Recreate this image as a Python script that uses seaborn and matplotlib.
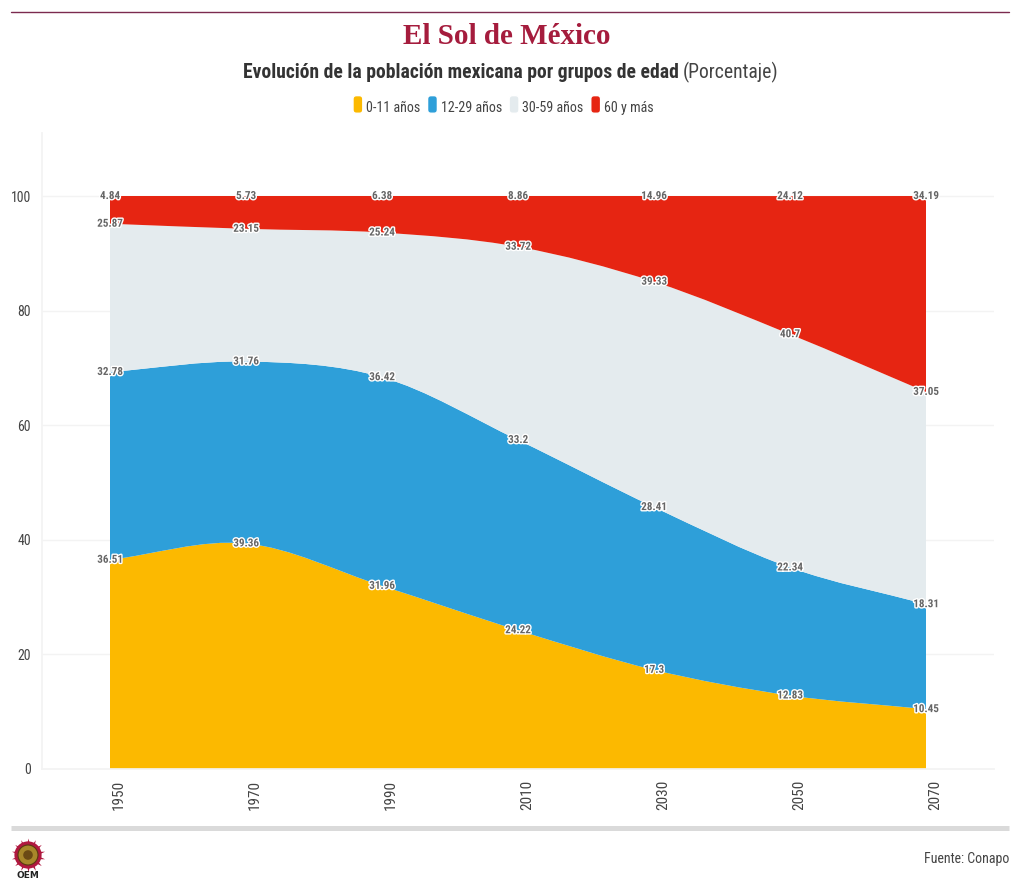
import numpy as np
import pandas as pd
import seaborn as sns
import matplotlib.pyplot as plt
from matplotlib import font_manager
from matplotlib.path import Path
from matplotlib.patches import PathPatch, FancyBboxPatch, Circle
from matplotlib.legend_handler import HandlerPatch
from matplotlib.patches import Patch
import matplotlib.patheffects as pe

years = [1950, 1970, 1990, 2010, 2030, 2050, 2070]
age_0_11 = [36.51, 39.36, 31.96, 24.22, 17.3, 12.83, 10.45]
age_12_29 = [32.78, 31.76, 36.42, 33.2, 28.41, 22.34, 18.31]
age_30_59 = [25.87, 23.15, 25.24, 33.72, 39.33, 40.7, 37.05]
age_60 = [4.84, 5.73, 6.38, 8.86, 14.96, 24.12, 34.19]
names = ["0-11 años", "12-29 años", "30-59 años", "60 y más"]
colors = ["#fcb900", "#2e9fd9", "#e4ebee", "#e62512"]
yticks = [0, 20, 40, 60, 80, 100]

sns.set_theme(style="white")
installed = {f.name for f in font_manager.fontManager.ttflist}
narrow = next((f for f in ["Roboto Condensed", "Liberation Sans Narrow", "Roboto"] if f in installed), "DejaVu Sans")
plt.rcParams["font.family"] = [narrow, "DejaVu Sans"]
palette = sns.color_palette(colors)

W, H = 1020, 892
fig = plt.figure(figsize=(W / 100, H / 100), dpi=100)
# plot box in pixels: x 42-994, y 133-769
ax = fig.add_axes([42 / W, 1 - 769 / H, 952 / W, 636 / H])

df = pd.DataFrame({"year": years, names[0]: age_0_11, names[1]: age_12_29, names[2]: age_30_59, names[3]: age_60})
tops = df[names].cumsum(axis=1)


def spline(xs, ys):
    # cardinal spline as bezier segments, same look as the source chart
    xs = np.asarray(xs, float)
    ys = np.asarray(ys, float)
    m = np.gradient(ys, xs)
    m[0] = (ys[1] - ys[0]) / (xs[1] - xs[0])
    m[-1] = (ys[-1] - ys[-2]) / (xs[-1] - xs[-2])
    verts = []
    for i in range(len(xs) - 1):
        h = (xs[i + 1] - xs[i]) / 3
        verts += [(xs[i] + h, ys[i] + m[i] * h), (xs[i + 1] - h, ys[i + 1] - m[i + 1] * h), (xs[i + 1], ys[i + 1])]
    return verts


for i, name in enumerate(names):
    upper = tops[name].values
    lower = tops[names[i - 1]].values if i else np.zeros(len(years))
    v = [(years[0], upper[0])] + spline(years, upper)
    c = [Path.MOVETO] + [Path.CURVE4] * (len(v) - 1)
    back = spline(years[::-1], lower[::-1])
    v += [(years[-1], lower[-1])] + back + [(years[0], upper[0])]
    c += [Path.LINETO] + [Path.CURVE4] * len(back) + [Path.CLOSEPOLY]
    ax.add_patch(PathPatch(Path(v, c), facecolor=palette[i], edgecolor="none", zorder=2))

halo = [pe.withStroke(linewidth=2, foreground="white")]
for name in names:
    for yr, val, top in zip(years, df[name], tops[name]):
        ax.text(yr, round(top, 2), f"{val:g}", ha="center", va="center", fontsize=8, fontweight="bold",
                color="#666666", path_effects=halo, zorder=5)

ax.set_xlim(1940, 2080)
ax.set_ylim(0, 636 / 5.73)
ax.set_yticks(yticks)
ax.set_xticks(years)
ax.set_xticklabels([])
ax.yaxis.grid(True, color="#f3f3f3", lw=1)
ax.set_axisbelow(True)
ax.tick_params(axis="y", length=0, labelsize=10, labelcolor="#444444", pad=8)
ax.tick_params(axis="x", length=30, width=0.8, color="#f3f3f3", direction="out")
for yr in years:
    ax.annotate(str(yr), (yr, 0), xytext=(6.5, -8), textcoords="offset points", rotation=90,
                ha="center", va="top", fontsize=11, color="#444444", annotation_clip=False)
sns.despine(ax=ax, top=True, right=True)
for side in ["left", "bottom"]:
    ax.spines[side].set_color("#f3f3f3")


# frame pieces in pixel coordinates
def fx(px):
    return px / W


def fy(py):
    return 1 - py / H


fig.add_artist(plt.Line2D([fx(11), fx(1009)], [fy(11.5), fy(11.5)], color="#7b2a4f", lw=1))
fig.add_artist(plt.Line2D([fx(11), fx(1009)], [fy(827.5), fy(827.5)], color="#dadada", lw=3.6, solid_capstyle="butt"))

fig.text(fx(507), fy(36), "El Sol de México", family="Liberation Serif", fontweight="bold", fontsize=21,
         color="#a51c3d", ha="center", va="center")

title = fig.text(fx(243), fy(72), "Evolución de la población mexicana por grupos de edad", fontsize=14.1,
                 fontweight="bold", color="#333333", ha="left", va="center")
fig.canvas.draw()
bb = title.get_window_extent()
fig.text((bb.x1 + 4) / W, fy(72), "(Porcentaje)", fontsize=14.1, color="#444444", ha="left", va="center")


def round_swatch(legend, orig_handle, xdescent, ydescent, width, height, fontsize):
    return FancyBboxPatch((xdescent + 0.5, ydescent - 2.5), width - 1, height + 3,
                          boxstyle="round,pad=0,rounding_size=2.5")


handles = [Patch(facecolor=palette[i], label=names[i]) for i in range(4)]
fig.legend(handles=handles, loc="center", bbox_to_anchor=(fx(503), fy(107.5)), ncol=4, frameon=False,
           fontsize=10.1, labelcolor="#444444", handlelength=0.8, handleheight=1.1, handletextpad=0.2,
           columnspacing=0.45, borderpad=0,
           handler_map={Patch: HandlerPatch(patch_func=round_swatch)})

fig.text(fx(1009), fy(859), "Fuente: Conapo", fontsize=10, color="#444444", ha="right", va="center")

# OEM logo, small sun emblem and letters
logo = fig.add_axes([fx(8), fy(875), 40 / W, 40 / H])
logo.set_xlim(-1, 1)
logo.set_ylim(-1, 1)
logo.axis("off")
logo.scatter([0], [0], s=600, marker=(14, 1, 0), color="#b0183f", linewidths=0)
logo.add_patch(Circle((0, 0), 0.68, facecolor="#b0183f", edgecolor="none"))
logo.add_patch(Circle((0, 0), 0.5, facecolor="#a8872a", edgecolor="#5a3a10", lw=0.8))
logo.add_patch(Circle((0, 0), 0.24, facecolor="#6b4a14", edgecolor="none"))
fig.text(fx(28), fy(876), "OEM", fontsize=6.5, family="DejaVu Sans", fontweight="bold", color="#222222",
         ha="center", va="center")

fig.savefig("out.png", dpi=100)
